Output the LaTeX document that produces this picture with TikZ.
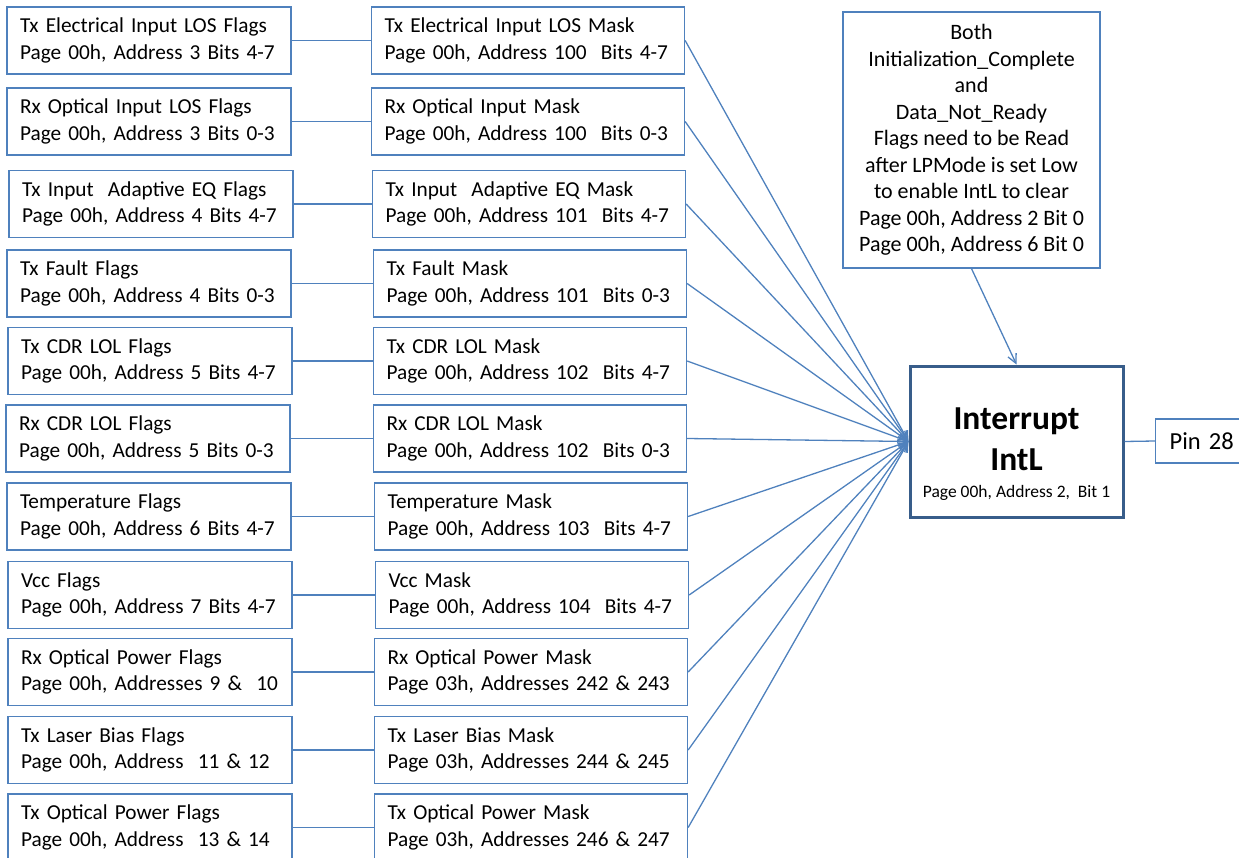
\documentclass[tikz,border=0pt]{standalone}
\usepackage{fontspec}
\setmainfont{Carlito}
\frenchspacing
\definecolor{linkblue}{RGB}{79, 129, 189}
\definecolor{intblue}{RGB}{56, 93, 138}
\usetikzlibrary{positioning, arrows.meta}
\tikzset{
  flagbox/.style={draw=linkblue, line width=1.3pt, minimum height=67pt, text width=258pt, inner xsep=13pt, align=left, font=\fontsize{21.3}{26.5}\selectfont},
  maskbox/.style={flagbox, text width=287pt},
  notebox/.style={draw=linkblue, line width=1.3pt, minimum width=257pt, minimum height=256pt, align=center, font=\fontsize{22}{26.5}\selectfont},
  intbox/.style={draw=intblue, line width=3pt, minimum width=213pt, minimum height=151pt, align=center, font=\fontsize{33.5}{41}\selectfont\bfseries},
  pinbox/.style={draw=linkblue, line width=1.3pt, anchor=west, minimum height=44pt, text width=72pt, inner xsep=14pt, align=left, font=\fontsize{24.5}{30}\selectfont},
  link/.style={draw=linkblue, line width=1.3pt},
  tolink/.style={link, -{Straight Barb[length=9pt, width=9pt, line width=1.3pt]}}
}

\begin{document}
\begin{tikzpicture}[x=1pt, y=-1pt]
  \clip (0, 0) rectangle (1239, 858);

  % Flag boxes
  \node[flagbox] (f1) at (149, 40.5) {Tx Electrical Input LOS Flags\\Page 00h, Address 3 Bits 4-7};
  \node[flagbox] (f2) at (149, 121.5) {Rx Optical Input LOS Flags\\Page 00h, Address 3 Bits 0-3};
  \node[flagbox] (f3) at (151, 204) {Tx Input~ Adaptive EQ Flags\\Page 00h, Address 4 Bits 4-7};
  \node[flagbox] (f4) at (149, 283.5) {Tx Fault Flags\\Page 00h, Address 4 Bits 0-3};
  \node[flagbox] (f5) at (150, 361) {Tx CDR LOL Flags\\Page 00h, Address 5 Bits 4-7};
  \node[flagbox] (f6) at (148, 438.5) {Rx CDR LOL Flags\\Page 00h, Address 5 Bits 0-3};
  \node[flagbox] (f7) at (149, 516.5) {Temperature Flags\\Page 00h, Address 6 Bits 4-7};
  \node[flagbox] (f8) at (150, 595) {Vcc Flags\\Page 00h, Address 7 Bits 4-7};
  \node[flagbox] (f9) at (150, 672) {Rx Optical Power Flags\\Page 00h, Addresses 9 \&~ 10};
  \node[flagbox] (f10) at (150, 750) {Tx Laser Bias Flags\\Page 00h, Address~ 11 \& 12};
  \node[flagbox] (f11) at (150, 827.5) {Tx Optical Power Flags\\Page 00h, Address~ 13 \& 14};

  % Mask boxes
  \node[maskbox] (m1) at (528, 40.5) {Tx Electrical Input LOS Mask\\Page 00h, Address 100~ Bits 4-7};
  \node[maskbox] (m2) at (528, 121.5) {Rx Optical Input Mask\\Page 00h, Address 100~ Bits 0-3};
  \node[maskbox] (m3) at (529, 204) {Tx Input~ Adaptive EQ Mask\\Page 00h, Address 101~ Bits 4-7};
  \node[maskbox] (m4) at (530, 283.5) {Tx Fault Mask\\Page 00h, Address 101~ Bits 0-3};
  \node[maskbox] (m5) at (530, 361) {Tx CDR LOL Mask\\Page 00h, Address 102~ Bits 4-7};
  \node[maskbox] (m6) at (530, 438.5) {Rx CDR LOL Mask\\Page 00h, Address 102~ Bits 0-3};
  \node[maskbox] (m7) at (531, 516.5) {Temperature Mask\\Page 00h, Address 103~ Bits 4-7};
  \node[maskbox] (m8) at (532, 595) {Vcc Mask\\Page 00h, Address 104~ Bits 4-7};
  \node[maskbox] (m9) at (531, 672) {Rx Optical Power Mask\\Page 03h, Addresses 242 \& 243};
  \node[maskbox] (m10) at (531, 750) {Tx Laser Bias Mask\\Page 03h, Addresses 244 \& 245};
  \node[maskbox] (m11) at (531, 827.5) {Tx Optical Power Mask\\Page 03h, Addresses 246 \& 247};

  % Interrupt, note and pin
  \node[intbox] (int) at (1016.5, 441.5) {\rule{0pt}{47pt}Interrupt\\IntL\\[-14pt]\fontsize{17.5}{20}\selectfont\mdseries Page 00h, Address 2,~ Bit 1};
  \node[notebox] (note) at (971.5, 140) {Both\\Initialization\_Complete\\and\\Data\_Not\_Ready\\Flags need to be Read\\after LPMode is set Low\\to enable IntL to clear\\Page 00h, Address 2 Bit 0\\Page 00h, Address 6 Bit 0};
  \node[pinbox] (pin) at (1155, 441) {Pin 28};

  % Flag to mask
  \draw[link] (f1) -- (m1);
  \draw[link] (f2) -- (m2);
  \draw[link] (f3) -- (m3);
  \draw[link] (f4) -- (m4);
  \draw[link] (f5) -- (m5);
  \draw[link] (f6) -- (m6);
  \draw[link] (f7) -- (m7);
  \draw[link] (f8) -- (m8);
  \draw[link] (f9) -- (m9);
  \draw[link] (f10) -- (m10);
  \draw[link] (f11) -- (m11);

  % Mask to interrupt
  \draw[tolink] (m1.east) -- (int.west);
  \draw[tolink] (m2.east) -- (int.west);
  \draw[tolink] (m3.east) -- (int.west);
  \draw[tolink] (m4.east) -- (int.west);
  \draw[tolink] (m5.east) -- (int.west);
  \draw[tolink] (m6.east) -- (int.west);
  \draw[tolink] (m7.east) -- (int.west);
  \draw[tolink] (m8.east) -- (int.west);
  \draw[tolink] (m9.east) -- (int.west);
  \draw[tolink] (m10.east) -- (int.west);
  \draw[tolink] (m11.east) -- (int.west);

  \draw[tolink] (note.south) -- (int.north);
  \draw[link] (int.east) -- (pin.west);
\end{tikzpicture}
\end{document}
